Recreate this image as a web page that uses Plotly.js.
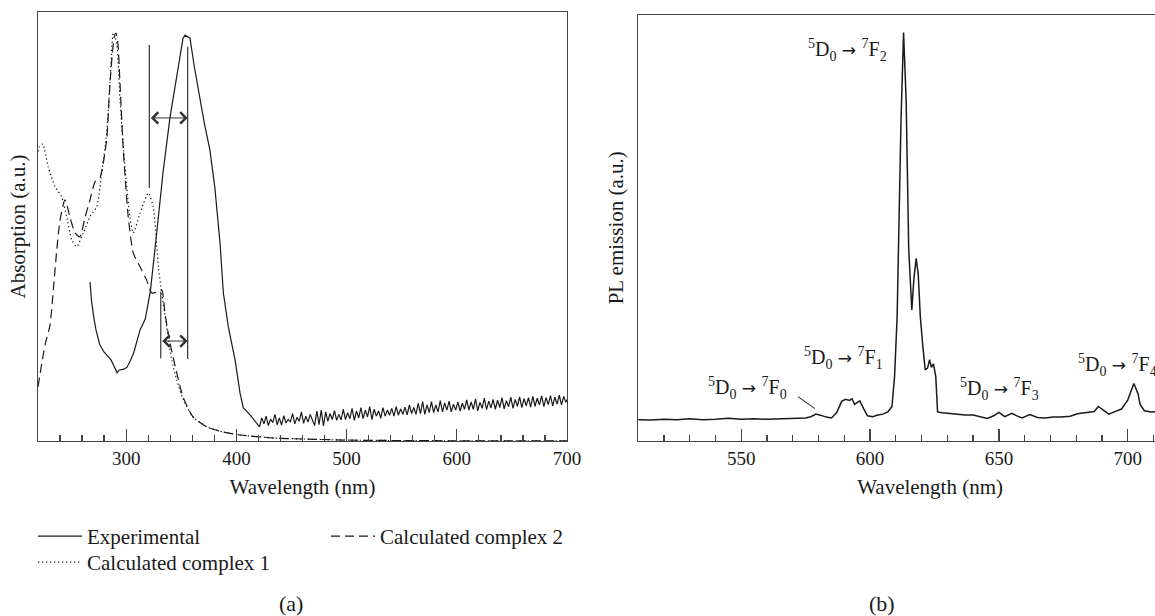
<!DOCTYPE html>
<html><head><meta charset="utf-8">
<script src="https://cdn.plot.ly/plotly-3.0.1.min.js"></script>
<style>html,body{margin:0;padding:0;overflow:hidden;background:#fff}</style>
</head><body><div id="chart" style="width:1230px;height:616px"></div>
<script>
// ---------- Panel (a): absorption ----------
const expWl = [267.2,268.5,270.5,272.6,276,280,284,286.2,289,291.7,293.5,296.2,298.5,300.8,304,307,312.6,317.4,322,327.7,333.4,339.8,346.1,351.6,353.5,355.2,357.9,362,367,371,376,380.5,385.2,388.2,392.7,398.8,403.3,406.3,412.4,418.5,
421,423,425,427,429,431,433,435,437,439,441,443,445,447,449,451,453,455,457,459,461,463,465,467,469,471,473,475,477,479,481,483,485,487,489,491,493,495,497,499,501,503,505,507,509,511,513,515,517,519,521,523,525,527,529,531,533,535,537,539,541,543,545,547,549,551,553,555,557,559,561,563,565,567,569,571,573,575,577,579,581,583,585,587,589,591,593,595,597,599,601,603,605,607,609,611,613,615,617,619,621,623,625,627,629,631,633,635,637,639,641,643,645,647,649,651,653,655,657,659,661,663,665,667,669,671,673,675,677,679,681,683,685,687,689,691,693,695,697,699,700];
const expAbs = [0.371,0.329,0.290,0.259,0.225,0.207,0.196,0.189,0.175,0.159,0.165,0.166,0.168,0.172,0.188,0.207,0.259,0.285,0.35,0.485,0.625,0.755,0.858,0.939,0.946,0.944,0.939,0.87,0.795,0.74,0.678,0.59,0.46,0.345,0.266,0.189,0.112,0.077,0.061,0.042,
0.033,0.054,0.040,0.058,0.036,0.051,0.043,0.062,0.038,0.054,0.037,0.059,0.042,0.050,0.045,0.064,0.040,0.055,0.046,0.068,
0.041,0.058,0.044,0.062,0.048,0.036,0.070,0.038,0.072,0.035,0.068,0.046,0.064,0.050,0.071,0.048,0.062,0.049,0.074,0.050,
0.066,0.052,0.076,0.048,0.070,0.054,0.078,0.052,0.072,0.056,0.080,0.050,0.074,0.058,0.070,0.053,0.078,0.058,0.072,0.060,
0.076,0.058,0.080,0.060,0.075,0.062,0.079,0.061,0.084,0.064,0.078,0.062,0.088,0.064,0.092,0.062,0.084,0.066,0.092,0.066,
0.084,0.068,0.094,0.068,0.089,0.072,0.093,0.068,0.086,0.072,0.091,0.070,0.088,0.074,0.096,0.072,0.091,0.074,0.098,0.070,
0.090,0.076,0.100,0.073,0.093,0.077,0.097,0.074,0.095,0.078,0.101,0.075,0.094,0.080,0.102,0.076,0.097,0.081,0.103,0.078,
0.099,0.082,0.101,0.079,0.104,0.081,0.100,0.084,0.105,0.080,0.101,0.085,0.106,0.082,0.102,0.086,0.107,0.084,0.104,0.090,0.097];

const calc1Wl = [220,221.2,224.3,229.3,235.4,241.5,246.0,250.6,255.1,261.1,267.2,273.3,277.8,282.3,285.3,288.3,291.4,294.4,298.9,303.4,306.5,312.6,320.1,324.6,329.2,332.3,336.8,341.3,345.9,351.9,360.7,373.1,387.9,403.3,433.2,470,503,550,600,650,700];
const calc1Abs = [0.675,0.686,0.692,0.639,0.593,0.569,0.523,0.469,0.453,0.485,0.523,0.546,0.625,0.718,0.834,0.951,0.928,0.795,0.639,0.522,0.485,0.531,0.578,0.545,0.406,0.345,0.266,0.189,0.142,0.096,0.056,0.033,0.021,0.014,0.007,0.004,0.002,0.001,0.0005,0.0003,0.0002];

const calc2Wl = [220,226.4,230.9,233.9,237,240,244.5,249,253.6,258.1,262.5,267.2,271.7,276.3,282.3,285.3,289.2,290.8,292.6,294.4,297.4,301.9,306.5,312.6,318.6,323.2,327.7,332.3,335.2,339.8,345.9,351.6,360.7,373.1,387.9,403.3,433.2,470,503,550,600,650,700];
const calc2Abs = [0.126,0.224,0.27,0.352,0.445,0.515,0.562,0.522,0.485,0.476,0.52,0.562,0.604,0.615,0.702,0.834,0.942,0.951,0.923,0.834,0.678,0.522,0.438,0.406,0.375,0.345,0.347,0.352,0.298,0.228,0.159,0.103,0.056,0.033,0.021,0.014,0.007,0.004,0.002,0.001,0.0005,0.0003,0.0002];

// guide lines (wavelength, bottom, top) and double arrows (from, to, level)
const guideWl = [321.0, 355.8, 331.4];
const guideLow = [0.590, 0.191, 0.193];
const guideHigh = [0.923, 0.919, 0.348];
const arrowFrom = [321.0, 331.4];
const arrowTo = [355.8, 355.8];
const arrowLevel = [0.753, 0.233];

// ---------- Panel (b): PL emission ----------
const plWl = [510,515,520,525,530,535,540,545,550,555,560,565,570,575,577,579,581,583,585,587,589,590.5,592,593,594,596,597.5,599,601,603,605,607,608.5,609.5,610.5,612,613,614,615,616.2,617,617.9,618.7,619.5,620.5,621.4,622.3,623.1,623.8,624.6,625.5,626.2,628,631,634,637,640,643,645.5,648,650,652.3,655,657,659,662,665,668,671,674,677.7,680.5,684.5,687,688.6,690.7,692.7,695,697.6,700,702.4,704,704.8,706.5,709,712,716];
const plInt = [0.049,0.048,0.050,0.049,0.051,0.049,0.050,0.052,0.050,0.051,0.050,0.051,0.052,0.053,0.056,0.062,0.059,0.055,0.053,0.065,0.092,0.097,0.094,0.098,0.085,0.093,0.075,0.058,0.056,0.060,0.062,0.068,0.080,0.15,0.29,0.75,0.959,0.80,0.45,0.307,0.38,0.428,0.39,0.291,0.22,0.166,0.17,0.190,0.172,0.18,0.15,0.067,0.065,0.063,0.062,0.060,0.060,0.055,0.052,0.058,0.066,0.056,0.064,0.058,0.053,0.061,0.054,0.053,0.055,0.055,0.057,0.063,0.065,0.068,0.080,0.070,0.062,0.068,0.074,0.095,0.134,0.11,0.085,0.070,0.067,0.068,0.070];

const ARROW = '<span style="font-family:DejaVu Sans;font-size:17px"> → </span>';
const transText = ['<sup>5</sup>D<sub>0</sub>'+ARROW+'<sup>7</sup>F<sub>0</sub>','<sup>5</sup>D<sub>0</sub>'+ARROW+'<sup>7</sup>F<sub>1</sub>','<sup>5</sup>D<sub>0</sub>'+ARROW+'<sup>7</sup>F<sub>2</sub>','<sup>5</sup>D<sub>0</sub>'+ARROW+'<sup>7</sup>F<sub>3</sub>','<sup>5</sup>D<sub>0</sub>'+ARROW+'<sup>7</sup>F<sub>4</sub>'];
const transWl = [552.6, 589.5, 591.4, 650.1, 695.9];
const transY = [0.123, 0.194, 0.918, 0.121, 0.177];
const leaderWl = [572.0, 578.6];
const leaderY = [0.103, 0.075];

// ---------- Layout helpers ----------
const W = 1230, H = 616;
const FONT = 'Liberation Serif, Times New Roman, serif';
const INK = '#1a1a1a', AX = '#444';

const traces = [
  {x: expWl, y: expAbs, type:'scatter', mode:'lines', name:'Experimental', xaxis:'x', yaxis:'y',
   line:{color:INK, width:1.2}, legend:'legend'},
  {x: calc2Wl, y: calc2Abs, type:'scatter', mode:'lines', name:'Calculated complex 2', xaxis:'x', yaxis:'y',
   line:{color:INK, width:1.2, dash:'9px,5px', shape:'spline', smoothing:0.6}, legend:'legend2'},
  {x: calc1Wl, y: calc1Abs, type:'scatter', mode:'lines', name:'Calculated complex 1', xaxis:'x', yaxis:'y',
   line:{color:INK, width:1.2, dash:'1.3px,2.7px', shape:'spline', smoothing:0.6}, legend:'legend3'},
  {x: plWl, y: plInt, type:'scatter', mode:'lines', name:'PL emission', xaxis:'x2', yaxis:'y2',
   line:{color:INK, width:1.5}, showlegend:false}
];

const shapes = [];
for (let i = 0; i < guideWl.length; i++) {
  shapes.push({type:'line', xref:'x', yref:'y', x0:guideWl[i], x1:guideWl[i], y0:guideLow[i], y1:guideHigh[i],
    line:{color:'#333', width:1.2}});
}
shapes.push({type:'line', xref:'x2', yref:'y2', x0:leaderWl[0], x1:leaderWl[1], y0:leaderY[0], y1:leaderY[1],
  line:{color:'#333', width:1.1}});

const annotations = [];
for (let i = 0; i < arrowFrom.length; i++) {
  annotations.push({xref:'x', yref:'y', axref:'x', ayref:'y', x:arrowTo[i], y:arrowLevel[i], ax:arrowFrom[i], ay:arrowLevel[i],
    text:'', showarrow:true, arrowside:'end+start', arrowhead:4, startarrowhead:4, arrowsize:2.2, startarrowsize:2.2,
    arrowwidth:1, arrowcolor:'#333', standoff:0, startstandoff:0});
}
for (let i = 0; i < transText.length; i++) {
  annotations.push({xref:'x2', yref:'y2', x:transWl[i], y:transY[i], text:transText[i], showarrow:false,
    xanchor:'center', yanchor:'middle', font:{family:FONT, size:20, color:INK}});
}
annotations.push({xref:'paper', yref:'paper', x:291/W, y:1-603/H, text:'(a)', showarrow:false, xanchor:'center', yanchor:'middle', font:{family:FONT, size:22, color:INK}});
annotations.push({xref:'paper', yref:'paper', x:882/W, y:1-603/H, text:'(b)', showarrow:false, xanchor:'center', yanchor:'middle', font:{family:FONT, size:22, color:INK}});

const baseX = {showline:true, linecolor:AX, linewidth:1.3, mirror:true, ticks:'inside', ticklen:12, tickwidth:1.3, tickcolor:AX,
  showgrid:false, zeroline:false, tickfont:{family:FONT, size:19, color:INK}, tick0:0, automargin:false};
const baseY = {showline:true, linecolor:AX, linewidth:1.3, mirror:true, ticks:'', showticklabels:false,
  showgrid:false, zeroline:false, range:[0,1], fixedrange:true, automargin:false};
const TF = {family:FONT, size:21, color:INK};
const LF = {family:FONT, size:21, color:INK};

const layout = {
  width:W, height:H, margin:{l:0, r:0, t:0, b:0},
  paper_bgcolor:'#fff', plot_bgcolor:'#fff',
  font:{family:FONT, size:19, color:INK},
  xaxis: Object.assign({}, baseX, {domain:[38/W, 567/W], range:[220,700], dtick:100, anchor:'y',
    minor:{dtick:20, ticks:'inside', ticklen:6, tickwidth:1.3, tickcolor:AX},
    title:{text:'Wavelength (nm)', font:TF, standoff:11}}),
  yaxis: Object.assign({}, baseY, {domain:[1-441/H, 1-12/H], anchor:'x',
    title:{text:'Absorption (a.u.)', font:TF, standoff:5}}),
  xaxis2: Object.assign({}, baseX, {domain:[638.2/W, 1222/W], range:[510,736.6], dtick:50, anchor:'y2',
    minor:{dtick:10, ticks:'inside', ticklen:6, tickwidth:1.3, tickcolor:AX},
    title:{text:'Wavelength (nm)', font:TF, standoff:11}}),
  yaxis2: Object.assign({}, baseY, {domain:[1-440.5/H, 1-15/H], anchor:'x2',
    title:{text:'PL emission (a.u.)', font:TF, standoff:7}}),
  legend:{x:33/W, y:1-516/H, xanchor:'left', yanchor:'top', orientation:'v', bgcolor:'rgba(0,0,0,0)',
    itemwidth:44, font:LF},
  legend2:{x:326/W, y:1-516/H, xanchor:'left', yanchor:'top', orientation:'v', bgcolor:'rgba(0,0,0,0)',
    itemwidth:44, font:LF},
  legend3:{x:33/W, y:1-542/H, xanchor:'left', yanchor:'top', orientation:'v', bgcolor:'rgba(0,0,0,0)',
    itemwidth:44, font:LF},
  shapes: shapes,
  annotations: annotations,
  showlegend:true
};

Plotly.newPlot('chart', traces, layout, {staticPlot:true, displayModeBar:false});
</script>
</body></html>
